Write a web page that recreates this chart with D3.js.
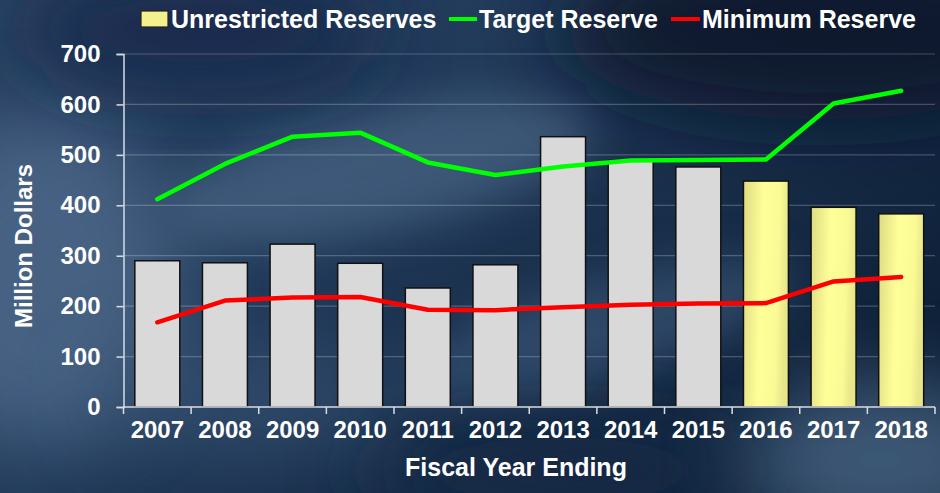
<!DOCTYPE html>
<html>
<head>
<meta charset="utf-8">
<script src="https://cdn.jsdelivr.net/npm/d3@7"></script>
<style>
  html, body { margin: 0; padding: 0; background: #1d3350; }
  svg { display: block; }
  text { font-family: "Liberation Sans", Arial, sans-serif; font-weight: bold; fill: #ffffff; }
</style>
</head>
<body>
<svg id="chart" width="940" height="493"></svg>
<script>
const years = ["2007","2008","2009","2010","2011","2012","2013","2014","2015","2016","2017","2018"];
const unrestricted = [290, 286, 323, 285, 236, 282, 536, 489, 476, 448, 396, 383];
const projected = [false,false,false,false,false,false,false,false,false,true,true,true];
const targetReserve = [412, 482, 536, 544, 485, 460, 477, 489, 490, 491, 602, 627];
const minimumReserve = [168, 211, 217, 218, 193, 192, 198, 203, 205, 206, 249, 258];
const yTicks = [0, 100, 200, 300, 400, 500, 600, 700];
const legendLabels = ["Unrestricted Reserves", "Target Reserve", "Minimum Reserve"];

const W = 940, H = 493;
const svg = d3.select("#chart");
const defs = svg.append("defs");

// Background gradient + clouds
const bg = defs.append("linearGradient").attr("id","bgGrad")
  .attr("x1","0").attr("y1","0").attr("x2","1").attr("y2","0.6");
bg.append("stop").attr("offset","0").attr("stop-color","#2a4363");
bg.append("stop").attr("offset","0.45").attr("stop-color","#213a59");
bg.append("stop").attr("offset","1").attr("stop-color","#0f2139");
const blur = defs.append("filter").attr("id","blur").attr("x","-50%").attr("y","-50%").attr("width","200%").attr("height","200%");
blur.append("feGaussianBlur").attr("stdDeviation", 40);
const blur2 = defs.append("filter").attr("id","blur2").attr("x","-50%").attr("y","-50%").attr("width","200%").attr("height","200%");
blur2.append("feGaussianBlur").attr("stdDeviation", 22);

svg.append("rect").attr("width",W).attr("height",H).attr("fill","url(#bgGrad)");
const clouds = svg.append("g");
clouds.append("ellipse").attr("cx",40).attr("cy",280).attr("rx",140).attr("ry",170).attr("fill","#4f6b8c").attr("opacity",0.8).attr("filter","url(#blur)");
clouds.append("ellipse").attr("cx",380).attr("cy",170).attr("rx",220).attr("ry",60).attr("fill","#4a6585").attr("opacity",0.7).attr("filter","url(#blur2)").attr("transform","rotate(-12 380 170)");
clouds.append("ellipse").attr("cx",820).attr("cy",30).attr("rx",260).attr("ry",90).attr("fill","#07142a").attr("opacity",0.9).attr("filter","url(#blur)");
clouds.append("ellipse").attr("cx",200).attr("cy",30).attr("rx",180).attr("ry",60).attr("fill","#132748").attr("opacity",0.85).attr("filter","url(#blur)");
clouds.append("ellipse").attr("cx",560).attr("cy",470).attr("rx",200).attr("ry",60).attr("fill","#132a47").attr("opacity",0.8).attr("filter","url(#blur)");
clouds.append("ellipse").attr("cx",880).attr("cy",460).attr("rx",140).attr("ry",80).attr("fill","#4a6684").attr("opacity",0.8).attr("filter","url(#blur)");
clouds.append("ellipse").attr("cx",600).attr("cy",330).attr("rx",200).attr("ry",50).attr("fill","#3e5a7c").attr("opacity",0.6).attr("filter","url(#blur2)").attr("transform","rotate(-15 600 330)");
clouds.append("ellipse").attr("cx",250).attr("cy",400).attr("rx",160).attr("ry",60).attr("fill","#3b5778").attr("opacity",0.6).attr("filter","url(#blur)");

// Yellow bar gradient
const yg = defs.append("linearGradient").attr("id","yellowGrad").attr("x1","0").attr("y1","0").attr("x2","1").attr("y2","0.15");
yg.append("stop").attr("offset","0").attr("stop-color","#ddda82");
yg.append("stop").attr("offset","0.45").attr("stop-color","#ffff99");
yg.append("stop").attr("offset","0.8").attr("stop-color","#fbfb96");
yg.append("stop").attr("offset","1").attr("stop-color","#e8e68a");

// Scales
const x = d3.scaleBand().domain(years).range([123.5, 935]).paddingInner(0.335).paddingOuter(0.1675);
const y = d3.scaleLinear().domain([0, 700]).range([407, 54]);
const step = x.step();
const xLeft = 123.5, xRight = 935;

// Gridlines
svg.append("g").selectAll("line").data(yTicks.filter(d => d > 0)).join("line")
  .attr("x1", xLeft).attr("x2", xRight)
  .attr("y1", d => y(d)).attr("y2", d => y(d))
  .attr("stroke", "#ffffff").attr("stroke-opacity", 0.22).attr("stroke-width", 1.2);

// Bars
svg.append("g").selectAll("rect").data(years).join("rect")
  .attr("x", d => x(d))
  .attr("width", x.bandwidth())
  .attr("y", (d,i) => y(unrestricted[i]))
  .attr("height", (d,i) => y(0) - y(unrestricted[i]))
  .attr("fill", (d,i) => projected[i] ? "url(#yellowGrad)" : "#d9d9d9")
  .attr("stroke", "#111111").attr("stroke-width", 1.5);

// Axes
const yAxis = d3.axisLeft(y).tickValues(yTicks).tickSize(7).tickPadding(16).tickFormat(d3.format("d"));
const gy = svg.append("g").attr("transform", `translate(${xLeft},0)`).call(yAxis);
gy.select(".domain").attr("stroke", "#d8dde4").attr("stroke-width", 1.5);
gy.selectAll(".tick line").attr("stroke", "#d8dde4").attr("stroke-width", 1.5);
gy.selectAll(".tick text").attr("font-size", 24).attr("fill", "#ffffff")
  .style("font-family", '"Liberation Sans", Arial, sans-serif').style("font-weight", "bold");

const xAxis = d3.axisBottom(x).tickSize(0).tickPadding(14);
const gx = svg.append("g").attr("transform", `translate(0,${y(0)})`).call(xAxis);
gx.select(".domain").remove();
gx.selectAll(".tick text").attr("font-size", 24).attr("fill", "#ffffff")
  .style("font-family", '"Liberation Sans", Arial, sans-serif').style("font-weight", "bold");
svg.append("line").attr("x1", xLeft).attr("x2", xRight).attr("y1", y(0)).attr("y2", y(0))
  .attr("stroke", "#d8dde4").attr("stroke-width", 1.5);
const boundaries = years.map(d => x(d) - step * x.paddingInner() / 2).concat([xRight]);
svg.append("g").selectAll("line").data(boundaries).join("line")
  .attr("x1", d => d).attr("x2", d => d).attr("y1", y(0)).attr("y2", y(0) + 7)
  .attr("stroke", "#d8dde4").attr("stroke-width", 1.5);

// Lines
const line = d3.line().x((d,i) => x(years[i]) + x.bandwidth()/2).y(d => y(d));
svg.append("path").datum(targetReserve).attr("d", line)
  .attr("fill","none").attr("stroke","#00ff00").attr("stroke-width",4.5)
  .attr("stroke-linejoin","round").attr("stroke-linecap","round");
svg.append("path").datum(minimumReserve).attr("d", line)
  .attr("fill","none").attr("stroke","#ff0000").attr("stroke-width",4.5)
  .attr("stroke-linejoin","round").attr("stroke-linecap","round");

// Axis titles
svg.append("text").attr("x", 516).attr("y", 476).attr("text-anchor","middle")
  .attr("font-size", 25).text("Fiscal Year Ending");
svg.append("text").attr("transform","translate(32,246) rotate(-90)").attr("text-anchor","middle")
  .attr("font-size", 24).text("Million Dollars");

// Legend
const lg = svg.append("g");
lg.append("rect").attr("x", 141).attr("y", 11).attr("width", 27).attr("height", 16)
  .attr("fill", "#f3f08e").attr("stroke", "#222").attr("stroke-width", 1.2);
lg.append("text").attr("x", 171).attr("y", 28).attr("font-size", 25).text(legendLabels[0]);
lg.append("line").attr("x1", 449).attr("x2", 477).attr("y1", 19).attr("y2", 19)
  .attr("stroke", "#00ff00").attr("stroke-width", 4);
lg.append("text").attr("x", 479).attr("y", 28).attr("font-size", 25).text(legendLabels[1]);
lg.append("line").attr("x1", 671).attr("x2", 700).attr("y1", 19).attr("y2", 19)
  .attr("stroke", "#ff0000").attr("stroke-width", 4);
lg.append("text").attr("x", 702).attr("y", 28).attr("font-size", 25).text(legendLabels[2]);
</script>
</body>
</html>
